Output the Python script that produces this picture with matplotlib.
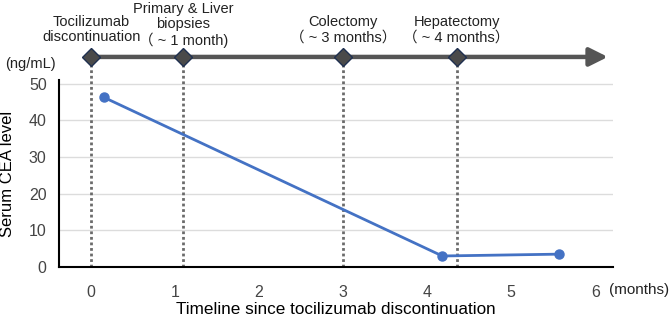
import matplotlib.pyplot as plt

plt.rcParams["font.family"] = ["Liberation Sans", "Noto Sans CJK JP", "DejaVu Sans"]

# CEA measurements (months since discontinuation, ng/mL)
cea_months = [0.15, 4.18, 5.57]
cea_values = [46.3, 3.0, 3.5]

# timeline events
event_months = [0.0, 1.1, 3.0, 4.35]
event_labels = [
    "Tocilizumab\ndiscontinuation",
    "Primary & Liver\nbiopsies\n（ ~ 1 month)",
    "Colectomy\n（ ~ 3 months）",
    "Hepatectomy\n（ ~ 4 months）",
]

x_ticks = [0, 1, 2, 3, 4, 5, 6]
y_ticks = [0, 10, 20, 30, 40, 50]

fig = plt.figure(figsize=(6.72, 3.24), dpi=100)
ax = fig.add_axes([0.088, 0.176, 0.824, 0.577])

ax.set_xlim(-0.38, 6.21)
ax.set_ylim(0, 51)
timeline_y = 57.3

# gridlines
for yv in y_ticks[1:]:
    ax.axhline(yv, color="#dcdcdc", lw=1, zorder=0)

# dotted event lines and timeline
for xm in event_months:
    ax.plot([xm, xm], [0, timeline_y], ls=(0, (1, 1)), color="#6b6b6b",
            lw=2, clip_on=False, zorder=1)

ax.annotate("", xy=(6.15, timeline_y), xytext=(0.0, timeline_y),
            xycoords="data", annotation_clip=False,
            arrowprops=dict(arrowstyle="-|>,head_length=1.1,head_width=0.55",
                            color="#555555", lw=3.2, shrinkA=0, shrinkB=0))
ax.plot(event_months, [timeline_y] * len(event_months), "D", ms=9.5,
        mfc="#4a4a4a", mec="#1f3050", mew=1, clip_on=False, zorder=5)

for xm, lab in zip(event_months, event_labels):
    # three-line label sits a little lower in the original
    off = 2.5 if lab.count("\n") == 2 else 3.4
    ax.text(xm, timeline_y + off, lab, ha="center", va="bottom",
            fontsize=10.5, color="#222222", linespacing=1.1)

# CEA series
ax.plot(cea_months, cea_values, "-o", color="#4472C4", lw=2, ms=6.5, zorder=4,
        clip_on=False)

ax.spines["top"].set_visible(False)
ax.spines["right"].set_visible(False)
ax.spines["left"].set_linewidth(1.5)
ax.spines["bottom"].set_linewidth(1.5)

ax.set_xticks(x_ticks)
ax.set_yticks(y_ticks)
ax.tick_params(axis="both", length=0, labelsize=11.5, colors="#444444")
ax.tick_params(axis="x", pad=13)
ax.tick_params(axis="y", pad=9)

ax.text(-0.72, 55.4, "(ng/mL)", ha="center", va="center", fontsize=10.5,
        color="#222222")
ax.text(6.52, -6.2, "(months)", ha="center", va="center", fontsize=11,
        color="#222222", clip_on=False)

ax.set_ylabel("Serum CEA level", fontsize=12, labelpad=10)
ax.set_xlabel("Timeline since tocilizumab discontinuation", fontsize=12.3,
              labelpad=1.5)

fig.savefig("out.png", dpi=100)
